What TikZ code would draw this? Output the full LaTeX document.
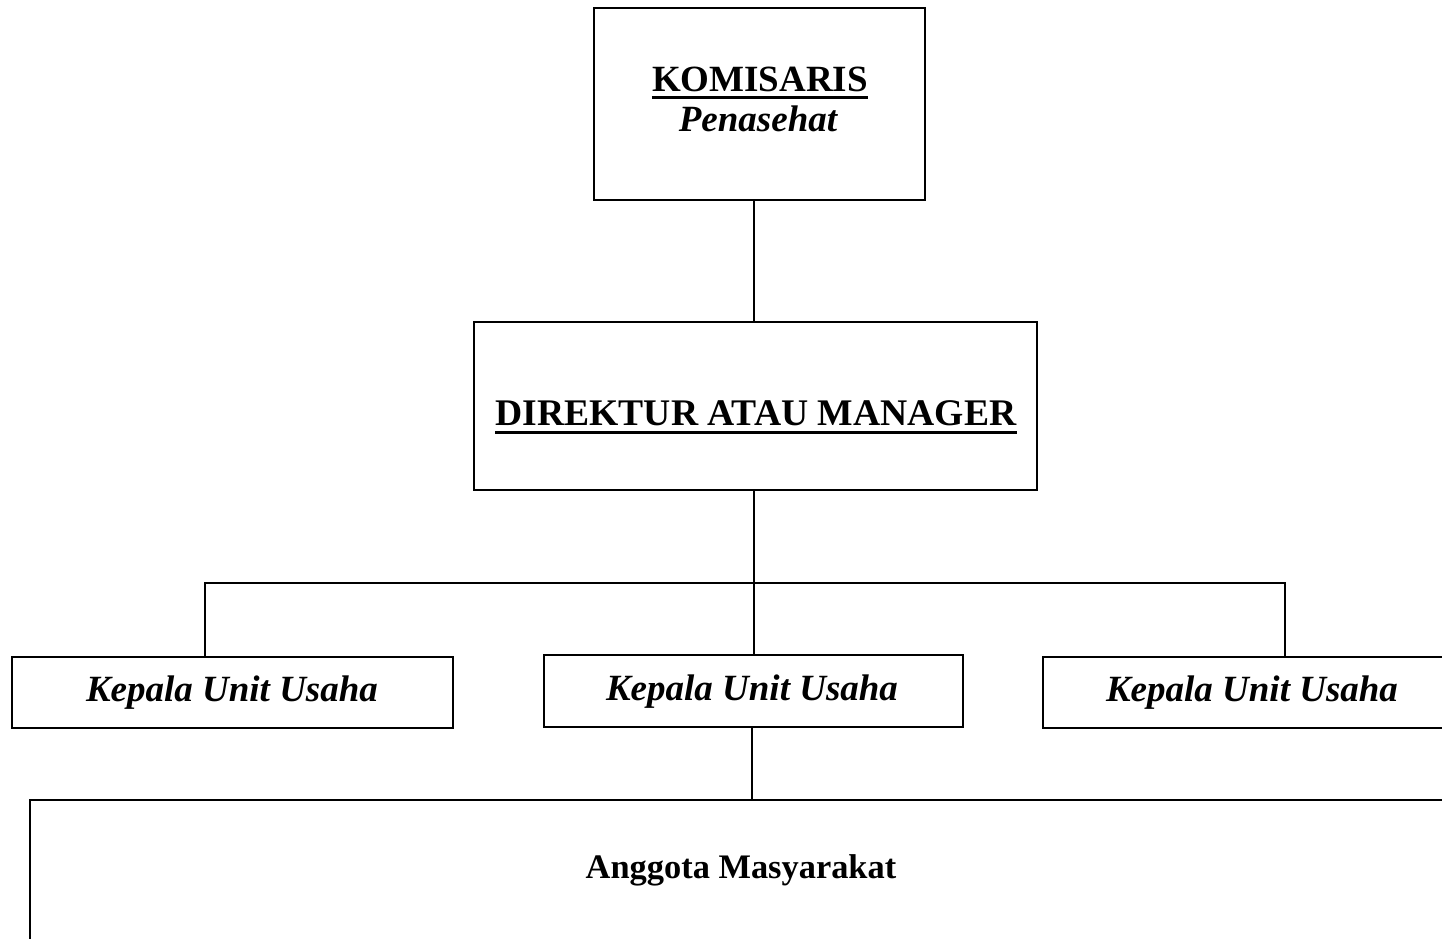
\documentclass[tikz,border=0pt]{standalone}
\usepackage{fontspec}
\setmainfont{Liberation Serif}
\begin{document}
\begin{tikzpicture}[x=1pt,y=-1pt,
  box/.style={draw,line width=2pt,rectangle,inner sep=0pt},
  lbl/.style={inner sep=0pt,anchor=base,font=\fontsize{37}{44}\selectfont\bfseries},
  lbli/.style={lbl,font=\fontsize{37}{44}\selectfont\bfseries\itshape},
  conn/.style={line width=1.6pt},
  uline/.style={line width=3pt}]
\clip (0,0) rectangle (1442,938);
\useasboundingbox (0,0) rectangle (1442,938);
% boxes
\node[box,minimum width=331pt,minimum height=192pt] (kom) at (759.5,104) {};
\node[box,minimum width=563pt,minimum height=168pt] (dir) at (755.5,406) {};
\node[box,minimum width=441pt,minimum height=71pt] (kl) at (232.5,692.5) {};
\node[box,minimum width=419pt,minimum height=72pt] (km) at (753.5,691) {};
\node[box,minimum width=418pt,minimum height=71pt] (kr) at (1252,692.5) {};
\node[box,minimum width=1430pt,minimum height=160pt] (ang) at (745,880) {};
% texts
\node[lbl] (tkom) at (760,91) {KOMISARIS};
\draw[uline] ([yshift=-6pt]tkom.base west) -- ([yshift=-6pt]tkom.base east);
\node[lbli] (tpen) at (758,131) {Penasehat};
\node[lbl,font=\fontsize{37.6}{44}\selectfont\bfseries] (tdir) at (756,425) {DIREKTUR ATAU MANAGER};
\draw[uline] ([yshift=-7pt]tdir.base west) -- ([yshift=-7pt]tdir.base east);
\node[lbli] (tkl) at (232,701) {Kepala Unit Usaha};
\node[lbli] (tkm) at (752,700) {Kepala Unit Usaha};
\node[lbli] (tkr) at (1252,701) {Kepala Unit Usaha};
\node[lbl,font=\fontsize{34.4}{40}\selectfont\bfseries] (tang) at (741,878) {Anggota Masyarakat};
% connectors
\coordinate (bus) at (754,583);
\draw[conn] (kom.south -| bus) -- (dir.north -| bus);
\draw[conn] (dir.south -| bus) -- (km.north -| bus);
\draw[conn] (kl.north -| 205,0) -- (205,583) -- (1285,583) -- (kr.north -| 1285,0);
\draw[conn] (km.south -| 752,0) -- (ang.north -| 752,0);
\end{tikzpicture}
\end{document}
